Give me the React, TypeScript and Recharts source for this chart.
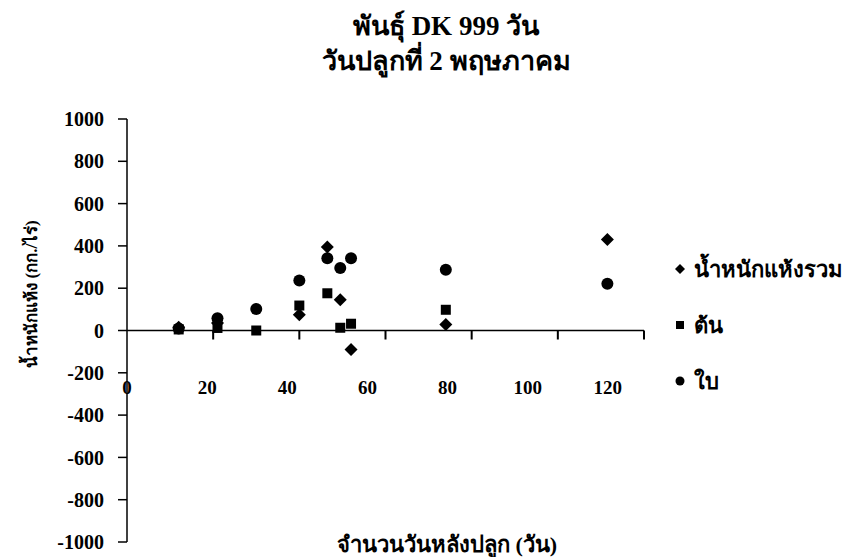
import React from 'react'
import {
  ScatterChart, Scatter, XAxis, YAxis, ReferenceLine, Legend,
} from 'recharts'

// days after planting
const totalDays = [12, 21, 40, 46.5, 49.5, 52, 74, 111.5]
const totalWeight = [15, 35, 75, 395, 145, -90, 28, 430]

const stemDays = [12, 21, 30, 40, 46.5, 49.5, 52, 74]
const stemWeight = [5, 12, 0, 118, 176, 13, 32, 98]

const leafDays = [12, 21, 30, 40, 46.5, 49.5, 52, 74, 111.5]
const leafWeight = [10, 58, 102, 236, 342, 295, 342, 287, 221]

const xTicks = [0, 20, 40, 60, 80, 100, 120]
const yTicks = [-1000, -800, -600, -400, -200, 0, 200, 400, 600, 800, 1000]

const seriesNames = ['น้ำหนักแห้งรวม', 'ต้น', 'ใบ']

const totalData = totalDays.map((d, i) => ({ day: d, w: totalWeight[i] }))
const stemData = stemDays.map((d, i) => ({ day: d, w: stemWeight[i] }))
const leafData = leafDays.map((d, i) => ({ day: d, w: leafWeight[i] }))
// tick marks of the x axis, which sits on the zero line
const tickMarkData = xTicks.slice(1).map((t) => ({ day: t, w: 0 }))

const W = 847
const H = 557
const PLOT_LEFT = 127
const PLOT_TOP = 119
const PLOT_BOTTOM = 542
const PLOT_RIGHT = 644
const ZERO_Y = PLOT_TOP + (PLOT_BOTTOM - PLOT_TOP) / 2

const serif = '"Liberation Serif", "Times New Roman", serif'

const Diamond = (p: any) => {
  const { cx, cy } = p
  const r = 6.5
  return <path d={`M${cx},${cy - r}L${cx + r},${cy}L${cx},${cy + r}L${cx - r},${cy}Z`} fill="#000" />
}
const Square = (p: any) => {
  const { cx, cy } = p
  return <rect x={cx - 5} y={cy - 5} width={10} height={10} fill="#000" />
}
const Dot = (p: any) => {
  const { cx, cy } = p
  return <circle cx={cx} cy={cy} r={6} fill="#000" />
}
const TickMark = (p: any) => {
  const { cx, cy } = p
  return <rect x={cx - 1} y={cy} width={2} height={9} fill="#000" />
}

const XTick = (props: any) => {
  const { x, payload } = props
  // labels in the source sit slightly compressed relative to the tick marks
  const lx = PLOT_LEFT + (Number(x) - PLOT_LEFT) * 0.93
  return (
    <text x={lx} y={ZERO_Y + 63} textAnchor="middle" fontFamily={serif} fontWeight="bold" fontSize={19} fill="#000">
      {payload.value}
    </text>
  )
}

const LegendBox = () => {
  const shapes = [
    <path key="d" d="M0,-5L5,0L0,5L-5,0Z" fill="#000" />,
    <rect key="s" x={-4} y={-4} width={8} height={8} fill="#000" />,
    <circle key="c" r={4.5} fill="#000" />,
  ]
  return (
    <div style={{ position: 'absolute', left: 672, top: 241 }}>
      {seriesNames.map((n, i) => (
        <div key={n} style={{ display: 'flex', alignItems: 'center', height: 56 }}>
          <svg width={16} height={16} style={{ marginRight: 6 }}>
            <g transform="translate(8,8)">{shapes[i]}</g>
          </svg>
          <span style={{ fontFamily: serif, fontWeight: 'bold', fontSize: 22 }}>{n}</span>
        </div>
      ))}
    </div>
  )
}

export default function App() {
  return (
    <div style={{ position: 'absolute', left: 0, top: 0, width: W, height: H, background: '#fff', overflow: 'hidden' }}>
      <div style={{ position: 'absolute', left: 296, top: 9, width: 300, textAlign: 'center', fontFamily: serif, fontWeight: 'bold', fontSize: 27, lineHeight: '35px' }}>
        <div>พันธุ์ DK 999 วัน</div>
        <div>วันปลูกที่ 2 พฤษภาคม</div>
      </div>
      <div style={{ position: 'absolute', left: 30, top: 294, transform: 'translate(-50%,-50%) rotate(-90deg)', whiteSpace: 'nowrap', fontFamily: serif, fontWeight: 'bold', fontSize: 17 }}>
        น้ำหนักแห้ง (กก./ไร่)
      </div>
      <div style={{ position: 'absolute', left: 447, top: 544, transform: 'translate(-50%,-50%)', whiteSpace: 'nowrap', fontFamily: serif, fontWeight: 'bold', fontSize: 22 }}>
        จำนวนวันหลังปลูก (วัน)
      </div>
      <ScatterChart
        width={W}
        height={H}
        margin={{ top: PLOT_TOP, right: W - PLOT_RIGHT, bottom: 0, left: PLOT_LEFT - 60 }}
        style={{ position: 'absolute', left: 0, top: 0 }}
      >
        <XAxis
          type="number"
          dataKey="day"
          domain={[0, 120]}
          ticks={xTicks}
          axisLine={false}
          tickLine={false}
          height={H - PLOT_BOTTOM}
          tick={(p: any) => <XTick {...p} />}
          interval={0}
        />
        <YAxis
          type="number"
          dataKey="w"
          domain={[-1000, 1000]}
          ticks={yTicks}
          width={60}
          axisLine={{ stroke: '#000', strokeWidth: 1.5 }}
          tickLine={{ stroke: '#000', strokeWidth: 1.5 }}
          tickSize={9}
          tickMargin={14}
          interval={0}
          tick={{ fill: '#000', fontFamily: serif, fontWeight: 'bold', fontSize: 20 }}
        />
        <ReferenceLine y={0} stroke="#000" strokeWidth={1.5} />
        <Scatter data={tickMarkData} shape={<TickMark />} isAnimationActive={false} legendType="none" />
        <Scatter name={seriesNames[0]} data={totalData} shape={<Diamond />} isAnimationActive={false} />
        <Scatter name={seriesNames[1]} data={stemData} shape={<Square />} isAnimationActive={false} />
        <Scatter name={seriesNames[2]} data={leafData} shape={<Dot />} isAnimationActive={false} />
        <Legend content={() => null} />
      </ScatterChart>
      <LegendBox />
    </div>
  )
}
